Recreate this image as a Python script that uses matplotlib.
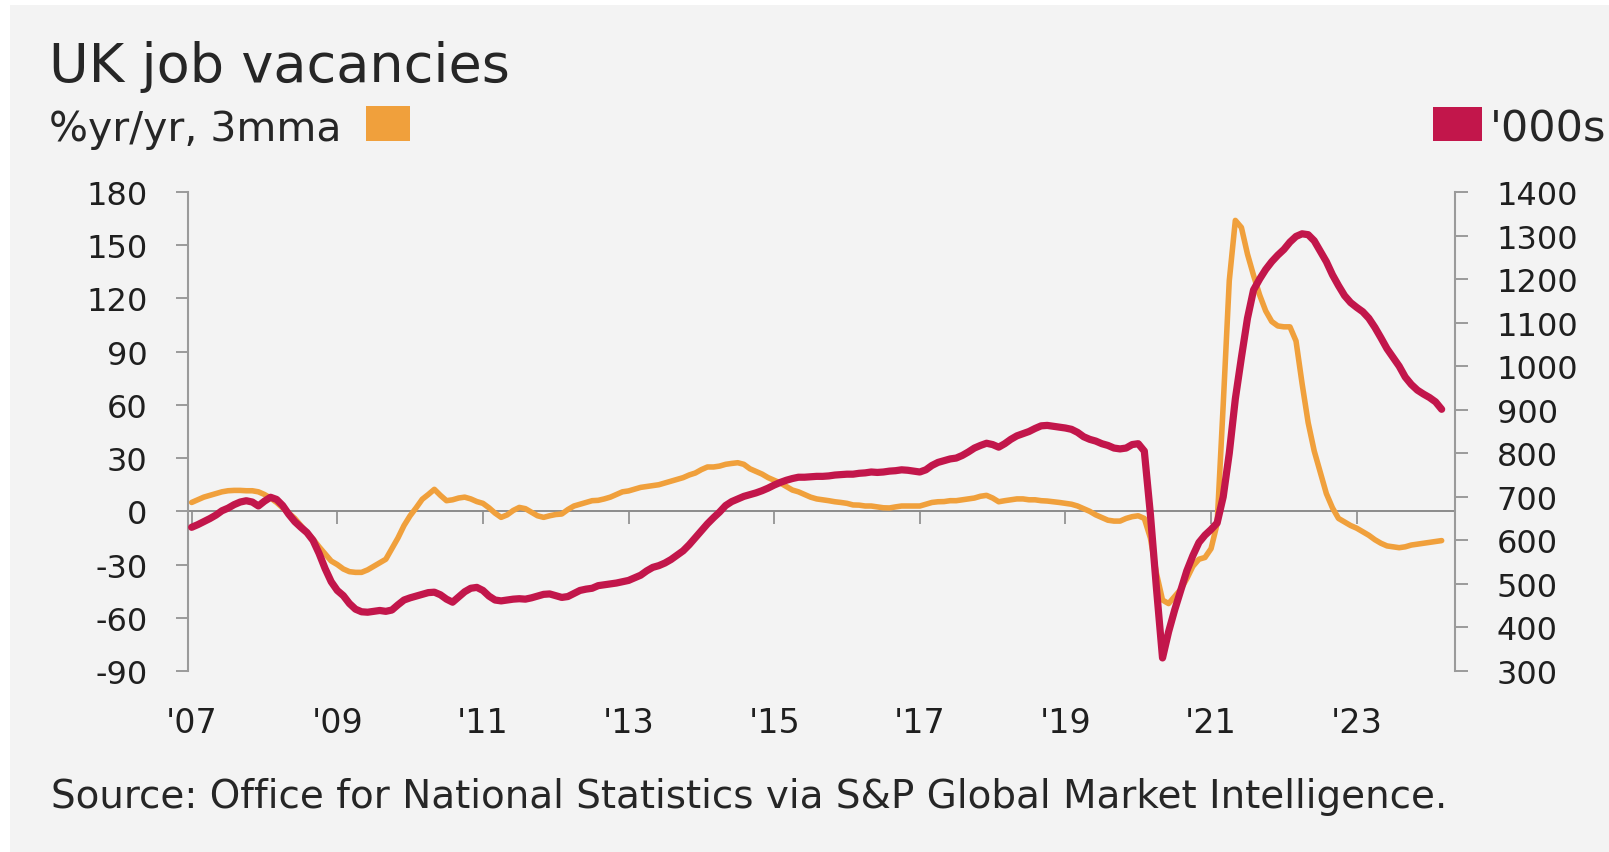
import matplotlib
matplotlib.use("Agg")
import matplotlib.pyplot as plt
from matplotlib.patches import Rectangle
import numpy as np

plt.rcParams["font.family"] = ["DejaVu Sans"]
plt.rcParams["axes.unicode_minus"] = False

# Monthly series, Jan 2007 - Mar 2024
vacancies_2007 = [630, 636, 643, 650, 658, 668, 674, 682, 688, 691, 688, 679]
vacancies_2008 = [690, 699, 694, 680, 660, 643, 630, 618, 600, 570, 535, 505]
vacancies_2009 = [485, 473, 455, 442, 436, 435, 437, 439, 437, 440, 452, 463]
vacancies_2010 = [468, 472, 476, 480, 481, 475, 465, 458, 470, 482, 490, 492]
vacancies_2011 = [485, 472, 463, 461, 463, 465, 466, 465, 468, 472, 476, 477]
vacancies_2012 = [473, 469, 471, 478, 485, 488, 490, 496, 498, 500, 502, 505]
vacancies_2013 = [508, 514, 520, 530, 538, 542, 548, 556, 566, 576, 590, 606]
vacancies_2014 = [622, 638, 652, 665, 680, 689, 695, 701, 705, 709, 714, 720]
vacancies_2015 = [727, 733, 738, 742, 745, 745, 746, 747, 747, 748, 750, 751]
vacancies_2016 = [752, 752, 754, 755, 757, 756, 757, 759, 760, 762, 761, 759]
vacancies_2017 = [757, 762, 772, 779, 783, 787, 789, 795, 803, 812, 818, 823]
vacancies_2018 = [820, 814, 822, 832, 840, 845, 850, 857, 863, 864, 862, 860]
vacancies_2019 = [858, 855, 848, 838, 832, 828, 822, 818, 812, 810, 812, 820]
vacancies_2020 = [822, 805, 660, 490, 330, 390, 440, 485, 530, 565, 595, 612]
vacancies_2021 = [625, 640, 700, 800, 925, 1020, 1110, 1175, 1200, 1222, 1240, 1255]
vacancies_2022 = [1268, 1285, 1298, 1304, 1302, 1288, 1264, 1240, 1210, 1185, 1162, 1146]
vacancies_2023 = [1135, 1125, 1110, 1089, 1065, 1040, 1020, 1000, 975, 958, 945, 936]
vacancies_2024 = [928, 918, 901]

yoy_2007 = [5, 6.5, 8, 9, 10, 11, 11.6, 11.8, 11.8, 11.6, 11.6, 11]
yoy_2008 = [9.5, 7.5, 5, 2, -1, -4, -8, -12, -15.6, -20, -24, -28]
yoy_2009 = [-30, -32.5, -34, -34.4, -34.4, -33, -31, -29, -27, -21, -15, -8]
yoy_2010 = [-2.5, 2, 6.8, 9.5, 12.4, 9, 6, 6.5, 7.5, 8, 7, 5.5]
yoy_2011 = [4.5, 2, -1, -3.4, -2, 0.5, 2.2, 1.5, -0.5, -2.5, -3.4, -2.5]
yoy_2012 = [-1.8, -1.5, 1, 3, 4, 5, 6, 6.2, 7, 8, 9.5, 11]
yoy_2013 = [11.5, 12.5, 13.5, 14, 14.5, 15, 16, 17, 18, 19, 20.5, 21.6]
yoy_2014 = [23.5, 25, 25, 25.5, 26.5, 27, 27.4, 26.5, 24, 22.5, 21, 19]
yoy_2015 = [17.5, 16, 14, 12, 11, 9.5, 8, 7, 6.5, 6, 5.4, 5]
yoy_2016 = [4.5, 3.6, 3.5, 3, 3, 2.5, 2, 1.9, 2.5, 3, 3, 3]
yoy_2017 = [3, 4, 5, 5.4, 5.5, 6, 6, 6.5, 7, 7.5, 8.5, 9]
yoy_2018 = [7.5, 5.4, 6, 6.5, 7, 7, 6.5, 6.5, 6, 5.8, 5.4, 5]
yoy_2019 = [4.5, 4, 3, 1.5, 0, -2, -3.5, -5, -5.5, -5.5, -4, -3]
yoy_2020 = [-2.5, -4, -15, -35, -50, -52, -48, -44, -38, -31, -27, -26]
yoy_2021 = [-21, -7, 60, 130, 164, 160, 145, 133, 122, 113, 107, 104.5]
yoy_2022 = [104, 104, 96, 72, 50, 34, 22, 10, 2, -4, -6, -8]
yoy_2023 = [-9.5, -11.5, -13.5, -16, -18, -19.5, -20, -20.5, -20, -19, -18.5, -18]
yoy_2024 = [-17.5, -17, -16.5]

tick_years = [2007, 2009, 2011, 2013, 2015, 2017, 2019, 2021, 2023]
tick_labels = ["'07", "'09", "'11", "'13", "'15", "'17", "'19", "'21", "'23"]
left_ticks = [-90, -60, -30, 0, 30, 60, 90, 120, 150, 180]
right_ticks = [300, 400, 500, 600, 700, 800, 900, 1000, 1100, 1200, 1300, 1400]

vacancies = np.concatenate([
    vacancies_2007, vacancies_2008, vacancies_2009, vacancies_2010, vacancies_2011,
    vacancies_2012, vacancies_2013, vacancies_2014, vacancies_2015, vacancies_2016,
    vacancies_2017, vacancies_2018, vacancies_2019, vacancies_2020, vacancies_2021,
    vacancies_2022, vacancies_2023, vacancies_2024])
yoy = np.concatenate([
    yoy_2007, yoy_2008, yoy_2009, yoy_2010, yoy_2011, yoy_2012, yoy_2013, yoy_2014,
    yoy_2015, yoy_2016, yoy_2017, yoy_2018, yoy_2019, yoy_2020, yoy_2021, yoy_2022,
    yoy_2023, yoy_2024])
dates = 2007 + np.arange(len(vacancies)) / 12.0

ORANGE = "#F0A03C"
CRIMSON = "#C2164B"
AXIS_GREY = "#9a9a9a"
TEXT = "#1f1f1f"

W, H = 1609, 853
fig = plt.figure(figsize=(W / 100, H / 100), dpi=100, facecolor="white")
fig.patches.append(Rectangle((10 / W, 0), 1, 1 - 6 / H, transform=fig.transFigure,
                             facecolor="#f3f3f3", edgecolor="none", zorder=-10))

ax = fig.add_axes([188 / W, 1 - 672 / H, (1455 - 188) / W, (672 - 193) / H])
ax.set_facecolor("none")
ax2 = ax.twinx()

ax.set_xlim(2006.95, 2024.35)
ax.set_ylim(-90, 180)
ax2.set_ylim(300, 1400)

ax.axhline(0, color="#8c8c8c", lw=1.4, zorder=1)
ax.plot(dates, yoy, color=ORANGE, lw=4.0, solid_joinstyle="round",
        solid_capstyle="round", zorder=3)
ax2.plot(dates, vacancies, color=CRIMSON, lw=5.2, solid_joinstyle="round",
         solid_capstyle="round", zorder=4)

for a in (ax, ax2):
    for s in ("top", "bottom"):
        a.spines[s].set_visible(False)
ax.spines["right"].set_visible(False)
ax2.spines["left"].set_visible(False)
ax.spines["left"].set_color(AXIS_GREY)
ax.spines["left"].set_linewidth(1.5)
ax2.spines["right"].set_color(AXIS_GREY)
ax2.spines["right"].set_linewidth(1.5)

ax.set_yticks(left_ticks)
ax2.set_yticks(right_ticks)
ax.tick_params(axis="y", direction="out", length=9, width=1.4, color=AXIS_GREY,
               pad=20, labelsize=23, labelcolor=TEXT)
ax2.tick_params(axis="y", direction="out", length=9, width=1.4, color=AXIS_GREY,
                pad=21, labelsize=23, labelcolor=TEXT)

ax.set_xticks(tick_years)
ax.set_xticklabels(tick_labels)
ax.tick_params(axis="x", length=0, pad=25, labelsize=24, labelcolor=TEXT)

# tick marks hanging from the zero line
zero_axis = ax.secondary_xaxis(1 / 3)
zero_axis.set_xticks(tick_years)
zero_axis.tick_params(axis="x", direction="out", length=9, width=1.4,
                      color=AXIS_GREY, labelbottom=False, labeltop=False)
for s in zero_axis.spines.values():
    s.set_visible(False)

# header, key swatches and footer
fig.text(49 / W, 1 - 82 / H, "UK job vacancies", fontsize=39, va="baseline", color="#262626")
fig.text(49 / W, 1 - 140.6 / H, "%yr/yr, 3mma", fontsize=29.5, va="baseline", color="#262626")
fig.patches.append(Rectangle((366 / W, 1 - 142 / H), 44 / W, 35 / H,
                             transform=fig.transFigure, facecolor=ORANGE, edgecolor="none"))
fig.patches.append(Rectangle((1433 / W, 1 - 142 / H), 49 / W, 34 / H,
                             transform=fig.transFigure, facecolor=CRIMSON, edgecolor="none"))
fig.text(1490 / W, 1 - 141.6 / H, "'000s", fontsize=31, va="baseline", color="#262626")
fig.text(51 / W, 1 - 807.6 / H,
         "Source: Office for National Statistics via S&P Global Market Intelligence.",
         fontsize=28, va="baseline", color="#262626")

fig.savefig("out.png", dpi=100, facecolor=fig.get_facecolor())
